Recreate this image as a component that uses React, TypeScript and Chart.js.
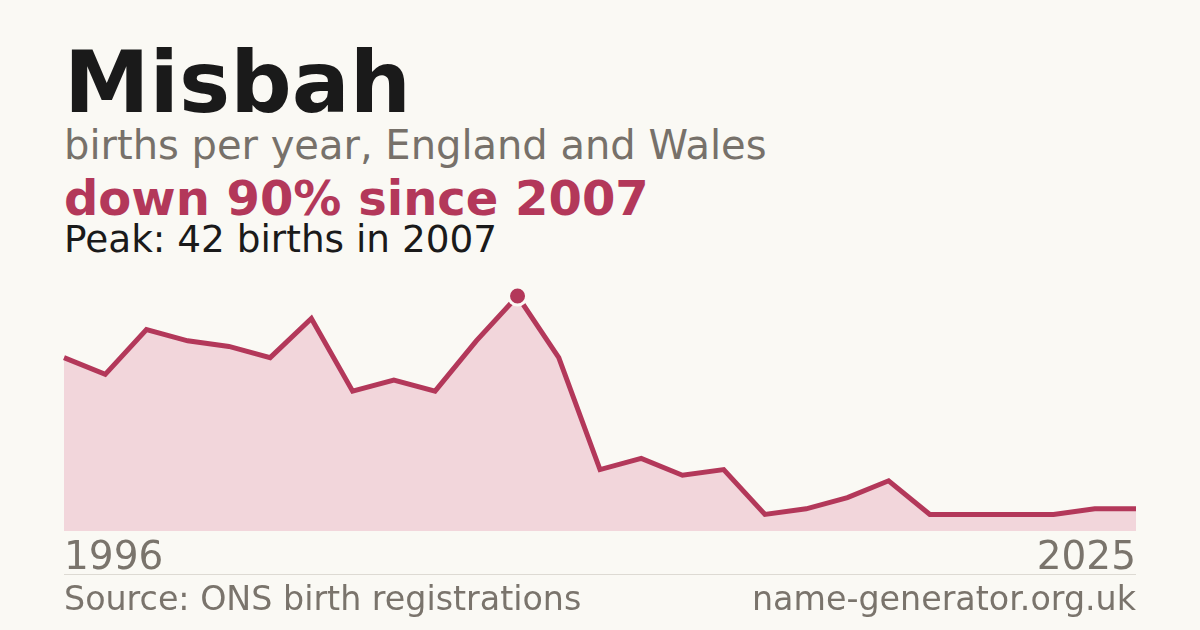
import { useEffect, useRef } from "react";
import { Chart, registerables } from "chart.js";

Chart.register(...registerables);

// years with registered births (some years missing from the series)
const years = [
  "1996", "1997", "1998", "1999", "2000", "2001", "2002", "2003", "2004",
  "2005", "2006", "2007", "2008", "2009", "2010", "2011", "2012", "2013",
  "2014", "2015", "2016", "2017", "2018", "2019", "2023", "2024", "2025",
];
const births = [
  31, 28, 36, 34, 33, 31, 38, 25, 27, 25, 34, 42, 31, 11, 13, 10, 11, 3, 4,
  6, 9, 3, 3, 3, 3, 4, 4,
];

const RED = "#b3385a";
const FILL = "#f2d6db";
const GREY = "#7a746c";
const BG = "#faf9f4";
const FONT = "'DejaVu Sans', sans-serif";

export default function App() {
  const canvasRef = useRef<HTMLCanvasElement>(null);
  const chartInstance = useRef<Chart | null>(null);

  useEffect(() => {
    if (!canvasRef.current) return;
    const ctx = canvasRef.current.getContext("2d");
    if (!ctx) return;
    if (chartInstance.current) chartInstance.current.destroy();

    const peak = births.indexOf(Math.max(...births));
    const last = years.length - 1;

    chartInstance.current = new Chart(ctx, {
      type: "line",
      data: {
        labels: years,
        datasets: [
          {
            data: births,
            borderColor: RED,
            borderWidth: 5,
            backgroundColor: FILL,
            fill: "origin",
            tension: 0,
            clip: false,
            pointRadius: (c: any) => (c.dataIndex === peak ? 9 : 0),
            pointBackgroundColor: RED,
            pointBorderColor: BG,
            pointBorderWidth: 3,
          },
        ],
      },
      options: {
        animation: false,
        responsive: true,
        maintainAspectRatio: false,
        layout: { padding: { left: 64, right: 64, top: 26, bottom: 0 } },
        plugins: { legend: { display: false }, tooltip: { enabled: false } },
        scales: {
          y: { display: false, min: 0, max: 42 },
          x: {
            offset: false,
            grid: { display: false, drawTicks: false },
            border: { display: false },
            ticks: {
              autoSkip: false,
              maxRotation: 0,
              align: "inner",
              padding: 4,
              color: GREY,
              font: { family: FONT, size: 39 },
              callback: (_v: any, i: number) =>
                i === 0 || i === last ? years[i] : "",
            },
          },
        },
      },
    });

    return () => chartInstance.current?.destroy();
  }, []);

  const text = (
    top: number,
    size: number,
    color: string,
    bold = false
  ): React.CSSProperties => ({
    position: "absolute",
    left: 64,
    top,
    fontSize: size,
    lineHeight: 1,
    color,
    fontWeight: bold ? 700 : 400,
    whiteSpace: "nowrap",
  });

  return (
    <div
      style={{
        position: "fixed",
        left: 0,
        top: 0,
        width: 1200,
        height: 630,
        background: BG,
        fontFamily: FONT,
        overflow: "hidden",
      }}
    >
      <div style={text(39.2, 86, "#1a1a1a", true)}>Misbah</div>
      <div style={text(125.2, 40, "#77716a")}>births per year, England and Wales</div>
      <div style={text(174.4, 48, RED, true)}>down 90% since 2007</div>
      <div style={text(221.4, 37.4, "#1a1a1a")}>Peak: 42 births in 2007</div>
      <div
        style={{ position: "absolute", left: 0, top: 270, width: 1200, height: 316 }}
      >
        <canvas ref={canvasRef}></canvas>
      </div>
      <div
        style={{
          position: "absolute",
          left: 64,
          width: 1072,
          top: 574,
          borderTop: "1px solid #dddad3",
        }}
      />
      <div style={text(581.8, 33.3, GREY)}>Source: ONS birth registrations</div>
      <div style={{ ...text(581.8, 33.3, GREY), left: "auto", right: 64 }}>
        name-generator.org.uk
      </div>
    </div>
  );
}
